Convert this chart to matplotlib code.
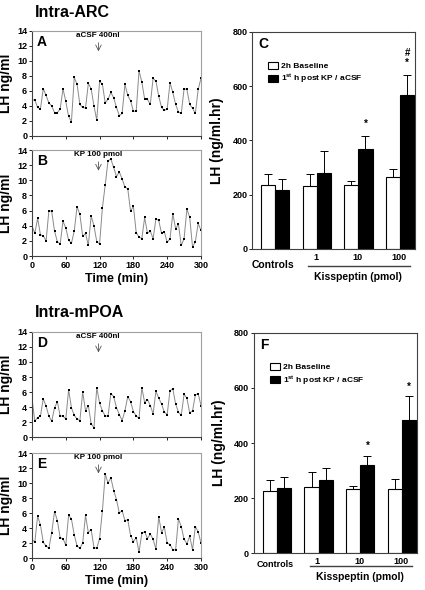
import matplotlib
matplotlib.use("Agg")
import matplotlib.pyplot as plt
import numpy as np
from matplotlib.transforms import blended_transform_factory

plt.rcParams['font.family'] = ['Liberation Sans', 'DejaVu Sans']
plt.rcParams['font.weight'] = 'bold'
plt.rcParams['mathtext.fontset'] = 'custom'
plt.rcParams['mathtext.rm'] = 'Liberation Sans:bold'
plt.rcParams['mathtext.bf'] = 'Liberation Sans:bold'
plt.rcParams['mathtext.default'] = 'bf'

time = list(range(0, 301, 5))

lh_A = [4.8, 4.8, 3.8, 3.6, 6.3, 5.4, 4.4, 4.0, 3.1, 3.1, 3.6, 6.3, 4.6, 2.6, 1.9, 7.8,
        6.9, 4.2, 3.8, 3.7, 7.0, 6.3, 4.0, 2.1, 7.3, 6.9, 4.4, 4.9, 5.8, 5.1, 3.8, 2.7,
        3.0, 6.9, 5.4, 4.7, 3.3, 3.3, 8.7, 7.2, 4.9, 4.9, 4.2, 7.7, 7.3, 5.3, 3.8, 3.4,
        3.6, 7.1, 5.8, 4.2, 3.2, 3.0, 6.3, 6.2, 4.2, 3.7, 3.0, 6.2, 7.7]
lh_B = [4.0, 3.0, 5.0, 2.8, 2.7, 2.0, 6.0, 5.9, 3.3, 1.9, 1.6, 4.6, 3.7, 2.1, 1.7, 3.3,
        6.5, 5.5, 2.6, 3.0, 1.4, 5.3, 4.0, 1.9, 1.6, 6.4, 9.4, 12.6, 12.8, 11.7, 10.5, 11.1,
        10.2, 9.1, 8.9, 5.9, 6.6, 3.1, 2.5, 2.3, 5.1, 3.0, 3.3, 2.3, 4.9, 4.7, 3.0, 3.2,
        1.8, 2.3, 5.6, 3.6, 4.2, 1.4, 2.3, 6.2, 5.1, 1.2, 1.9, 4.3, 3.4]
lh_D = [5.1, 2.1, 2.6, 2.8, 5.1, 4.1, 2.8, 2.1, 3.9, 4.7, 2.8, 2.8, 2.4, 6.3, 3.9, 2.9,
        2.4, 2.2, 6.0, 3.5, 4.2, 1.8, 1.2, 6.6, 4.5, 3.5, 2.8, 2.8, 5.8, 5.4, 3.9, 3.0,
        2.2, 3.5, 5.4, 4.7, 3.4, 2.8, 2.5, 6.6, 4.6, 5.0, 4.2, 3.1, 6.1, 5.2, 4.4, 3.3,
        3.0, 6.2, 6.4, 4.4, 3.3, 2.9, 5.7, 5.2, 3.2, 3.5, 5.6, 5.8, 4.2]
lh_E = [2.5, 2.1, 5.6, 4.4, 2.1, 1.6, 1.3, 3.4, 6.2, 5.0, 2.7, 2.6, 1.7, 5.7, 5.2, 3.1,
        1.6, 1.3, 2.0, 5.7, 3.4, 3.8, 1.4, 1.3, 2.6, 6.3, 11.2, 10.0, 10.7, 9.0, 7.8, 6.0,
        6.3, 5.0, 5.1, 3.0, 2.2, 2.7, 0.8, 3.3, 3.5, 2.6, 3.2, 2.5, 1.2, 5.5, 3.4, 4.1,
        2.0, 1.8, 1.1, 1.1, 5.2, 4.2, 2.5, 1.9, 2.9, 1.1, 4.2, 3.5, 2.0]

groups = ['Controls', '1', '10', '100']
C_base = [235, 232, 236, 267]
C_base_err = [42, 45, 13, 29]
C_post = [218, 281, 369, 568]
C_post_err = [40, 80, 49, 72]
F_base = [224, 240, 232, 232]
F_base_err = [40, 56, 13, 38]
F_post = [235, 267, 320, 485]
F_post_err = [43, 41, 33, 87]

GRAY = '#8a8a8a'
FIG = plt.figure(figsize=(4.25, 5.9), dpi=100)


def ts_axes(rect, data, letter, label, xlabels):
    ax = FIG.add_axes(rect)
    ax.plot(time, data, color=GRAY, lw=0.7, marker='s', ms=1.6, mfc='black', mec='black', mew=0)
    ax.set_xlim(0, 300)
    ax.set_ylim(0, 14)
    ax.set_xticks(range(0, 301, 60))
    ax.set_yticks(range(0, 15, 2))
    for s in ax.spines.values():
        s.set_color('#a0a0a0')
        s.set_linewidth(0.8)
    ax.spines['left'].set_color('#404040')
    ax.spines['bottom'].set_color('#404040')
    ax.tick_params(direction='out', length=2.5, width=0.6, labelsize=6.5, pad=1, colors='black')
    if not xlabels:
        ax.set_xticklabels([])
    else:
        ax.set_xlabel('Time (min)', fontsize=9, fontweight='bold', labelpad=2)
    ax.set_ylabel('LH ng/ml', fontsize=10, fontweight='bold', labelpad=3)
    ax.text(0.03, 0.96, letter, transform=ax.transAxes, ha='left', va='top', fontsize=10, fontweight='bold')
    ax.annotate('', xy=(118, 10.9), xytext=(118, 12.8),
                arrowprops=dict(arrowstyle='->', color='#555555', lw=0.6))
    ax.text(117, 13.4, label, ha='center', va='center', fontsize=5.8, fontweight='bold')
    return ax


def bar_axes(rect, base, berr, post, perr, letter, stars, num_off, ctrl_off, line_off, kiss_off):
    ax = FIG.add_axes(rect)
    x = np.arange(len(groups))
    w = 0.34
    ax.bar(x - w / 2, base, w, color='white', edgecolor='black', lw=0.8, label='2h Baseline')
    ax.bar(x + w / 2, post, w, color='black', edgecolor='black', lw=0.8,
           label=r'1$^{\mathbf{st}}$ h post KP / aCSF')
    ax.errorbar(x - w / 2, base, yerr=[np.zeros(4), berr], fmt='none', ecolor='black',
                elinewidth=0.7, capsize=3, capthick=0.7)
    ax.errorbar(x + w / 2, post, yerr=[np.zeros(4), perr], fmt='none', ecolor='black',
                elinewidth=0.7, capsize=3, capthick=0.7)
    ax.set_xlim(-0.55, 3.36)
    ax.set_ylim(0, 800)
    ax.set_yticks(range(0, 801, 200))
    ax.set_xticks([])
    for s in ax.spines.values():
        s.set_color('#404040')
        s.set_linewidth(0.8)
    ax.tick_params(direction='out', length=2.5, width=0.6, labelsize=6.5, pad=1)
    ax.set_ylabel('LH (ng/ml.hr)', fontsize=10, fontweight='bold', labelpad=6)
    ax.text(0.035, 0.975, letter, transform=ax.transAxes, ha='left', va='top', fontsize=10, fontweight='bold')
    ax.legend(loc='upper left', bbox_to_anchor=(0.06, 0.89), frameon=False, fontsize=6,
              handlelength=1.2, handleheight=0.9, handletextpad=0.4, borderpad=0.2, labelspacing=0.35)
    for (gi, txt, yv) in stars:
        ax.text(gi + w / 2, yv, txt, ha='center', va='center', fontsize=7, fontweight='bold')
    tr = blended_transform_factory(ax.transData, ax.transAxes)
    ax.annotate(groups[0], xy=(-0.05, 0), xycoords=tr, xytext=(0, ctrl_off[0]),
                textcoords='offset points', ha='center', va='center', fontsize=ctrl_off[1], fontweight='bold',
                annotation_clip=False)
    for gi in range(1, 4):
        ax.annotate(groups[gi], xy=(gi - 0.03, 0), xycoords=tr, xytext=(0, num_off),
                    textcoords='offset points', ha='center', va='center', fontsize=6.5, fontweight='bold',
                    annotation_clip=False)
    ax.plot([0.8, 3.24], [line_off, line_off], transform=tr, color='#404040', lw=1.0, clip_on=False)
    ax.annotate('Kisspeptin (pmol)', xy=(2.0, 0), xycoords=tr, xytext=(0, kiss_off),
                textcoords='offset points', ha='center', va='center', fontsize=7.5, fontweight='bold',
                annotation_clip=False)
    return ax


ts_axes([0.0753, 0.7695, 0.3976, 0.178], lh_A, 'A', 'aCSF 400nl', False)
ts_axes([0.0753, 0.566, 0.3976, 0.1797], lh_B, 'B', 'KP 100 pmol', True)
ts_axes([0.0753, 0.2593, 0.3976, 0.178], lh_D, 'D', 'aCSF 400nl', False)
ts_axes([0.0753, 0.0542, 0.3976, 0.178], lh_E, 'E', 'KP 100 pmol', True)

bar_axes([0.5937, 0.578, 0.3828, 0.3678], C_base, C_base_err, C_post, C_post_err, 'C',
         [(2, '*', 460), (3, '*', 685), (3, '#', 722)], -6.0, (-11.5, 7.5), -0.078, -20)
bar_axes([0.5976, 0.0627, 0.3835, 0.3729], F_base, F_base_err, F_post, F_post_err, 'F',
         [(2, '*', 388), (3, '*', 606)], -6.0, (-8.5, 6.5), -0.06, -17.5)

FIG.text(0.083, 0.979, 'Intra-ARC', ha='left', va='center', fontsize=11.5, fontweight='bold')
FIG.text(0.083, 0.471, 'Intra-mPOA', ha='left', va='center', fontsize=11.5, fontweight='bold')

FIG.savefig('out.png', dpi=100)
